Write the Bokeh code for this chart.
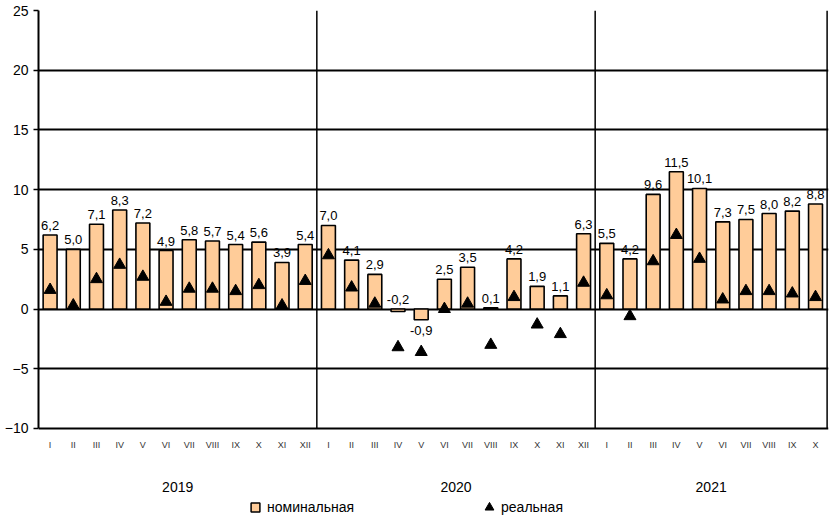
from bokeh.plotting import figure
from bokeh.models import Range1d, FixedTicker, Legend, LegendItem, ColumnDataSource
from bokeh.core.properties import value
from bokeh.embed import file_html
from bokeh.resources import INLINE

years = ["2019", "2020", "2021"]
months_per_year = [12, 12, 10]
month_names = ["I", "II", "III", "IV", "V", "VI", "VII", "VIII", "IX", "X", "XI", "XII"]

nominal = [6.2, 5.0, 7.1, 8.3, 7.2, 4.9, 5.8, 5.7, 5.4, 5.6, 3.9, 5.4,
           7.0, 4.1, 2.9, -0.2, -0.9, 2.5, 3.5, 0.1, 4.2, 1.9, 1.1, 6.3,
           5.5, 4.2, 9.6, 11.5, 10.1, 7.3, 7.5, 8.0, 8.2, 8.8]
real = [1.6, 0.3, 2.5, 3.7, 2.7, 0.6, 1.7, 1.7, 1.5, 2.0, 0.3, 2.35,
        4.5, 1.8, 0.45, -3.2, -3.6, 0.0, 0.45, -3.0, 1.0, -1.3, -2.1, 2.2,
        1.15, -0.6, 4.0, 6.2, 4.2, 0.8, 1.5, 1.5, 1.3, 1.0]

y_ticks = [-10, -5, 0, 5, 10, 15, 20, 25]
series_names = ["номинальная", "реальная"]

FONT = "Liberation Sans"
BOTTOM_SPACE = 7.54   # extra room (in y units) below the chart for month/year labels & legend
BAR_COLOR = "#FFCC99"

labels_month = []
for n in months_per_year:
    labels_month += month_names[:n]
n_total = len(nominal)
xs = [i + 0.5 for i in range(n_total)]
text_labels = [f"{v:.1f}".replace(".", ",") for v in nominal]

y_lo, y_hi = y_ticks[0], y_ticks[-1]

p = figure(width=829, height=518, output_backend="svg", toolbar_location=None,
           x_range=Range1d(0, n_total + 0.06), y_range=Range1d(y_lo - BOTTOM_SPACE, y_hi),
           min_border_left=38, min_border_right=1, min_border_top=10, min_border_bottom=0)
p.background_fill_color = "white"
p.border_fill_color = "white"
p.outline_line_color = None
p.xaxis.visible = False

# y axis
p.yaxis.ticker = FixedTicker(ticks=y_ticks)
p.yaxis.bounds = (y_lo, y_hi)
p.yaxis.axis_line_color = "black"
p.yaxis.axis_line_width = 2
p.yaxis.major_tick_line_color = "black"
p.yaxis.major_tick_line_width = 1.5
p.yaxis.major_tick_out = 5
p.yaxis.major_tick_in = 0
p.yaxis.minor_tick_line_color = None
p.yaxis.major_label_text_font = FONT
p.yaxis.major_label_text_font_size = "14px"
p.yaxis.major_label_text_color = "black"
p.yaxis.major_label_standoff = 5

p.ygrid.ticker = FixedTicker(ticks=y_ticks)
p.ygrid.grid_line_color = "black"
p.ygrid.grid_line_width = 1.8
p.xgrid.grid_line_color = None

# year separators and right border
bounds_x = []
start = 0
for n in months_per_year:
    start += n
    bounds_x.append(start)
p.segment(x0=bounds_x, x1=bounds_x, y0=[y_lo] * len(bounds_x), y1=[y_hi] * len(bounds_x),
          line_color="black", line_width=1.5)

src = ColumnDataSource(dict(x=xs, nominal=nominal, real=real, lab=text_labels))
bars = p.vbar(x="x", top="nominal", bottom=0, width=0.6, source=src,
              fill_color=BAR_COLOR, line_color="black", line_width=1.6)
tri = p.scatter(x="x", y="real", source=src, marker="triangle", size=12,
                fill_color="black", line_color="black")

# legend symbol for the bar series: zero-size markers on the bar tops (invisible on the chart)
leg_sq = p.scatter(x="x", y="nominal", source=src, size=0, marker="square",
                   fill_color=BAR_COLOR, line_color="black", line_width=1.5)

# value labels
up_x, up_y, up_t, dn_x, dn_y, dn_t = [], [], [], [], [], []
for x, v, t in zip(xs, nominal, text_labels):
    if v > -0.5:
        up_x.append(x); up_y.append(max(v, 0)); up_t.append(t)
    else:
        dn_x.append(x); dn_y.append(v); dn_t.append(t)
p.text(x=up_x, y=up_y, text=up_t, text_align="center", text_baseline="bottom",
       y_offset=-5, text_font=value(FONT), text_font_size="13px", text_color="black")
p.text(x=dn_x, y=dn_y, text=dn_t, text_align="center", text_baseline="top",
       y_offset=6, text_font=value(FONT), text_font_size="13px", text_color="black")

# month labels
p.text(x=xs, y=[y_lo] * n_total, text=labels_month, text_align="center",
       text_baseline="middle", y_offset=17, text_font=value(FONT),
       text_font_size="9px", text_color="#333333")

# year labels
year_centers = []
start = 0
for n in months_per_year:
    year_centers.append(start + n / 2)
    start += n
p.text(x=year_centers, y=[y_lo] * len(years), text=years, text_align="center",
       text_baseline="middle", y_offset=59, text_font=value(FONT),
       text_font_size="14px", text_color="black")

legend = Legend(items=[LegendItem(label=series_names[0], renderers=[leg_sq]),
                       LegendItem(label=series_names[1], renderers=[tri])],
                orientation="horizontal", location=(206, 0),
                label_text_font=FONT, label_text_font_size="14px",
                label_text_color="black", spacing=124, padding=0, margin=0,
                glyph_width=22, glyph_height=22, label_standoff=1,
                label_height=14, border_line_color=None, background_fill_alpha=0)
p.add_layout(legend, "center")

open("out.html", "w").write(file_html(p, INLINE))
